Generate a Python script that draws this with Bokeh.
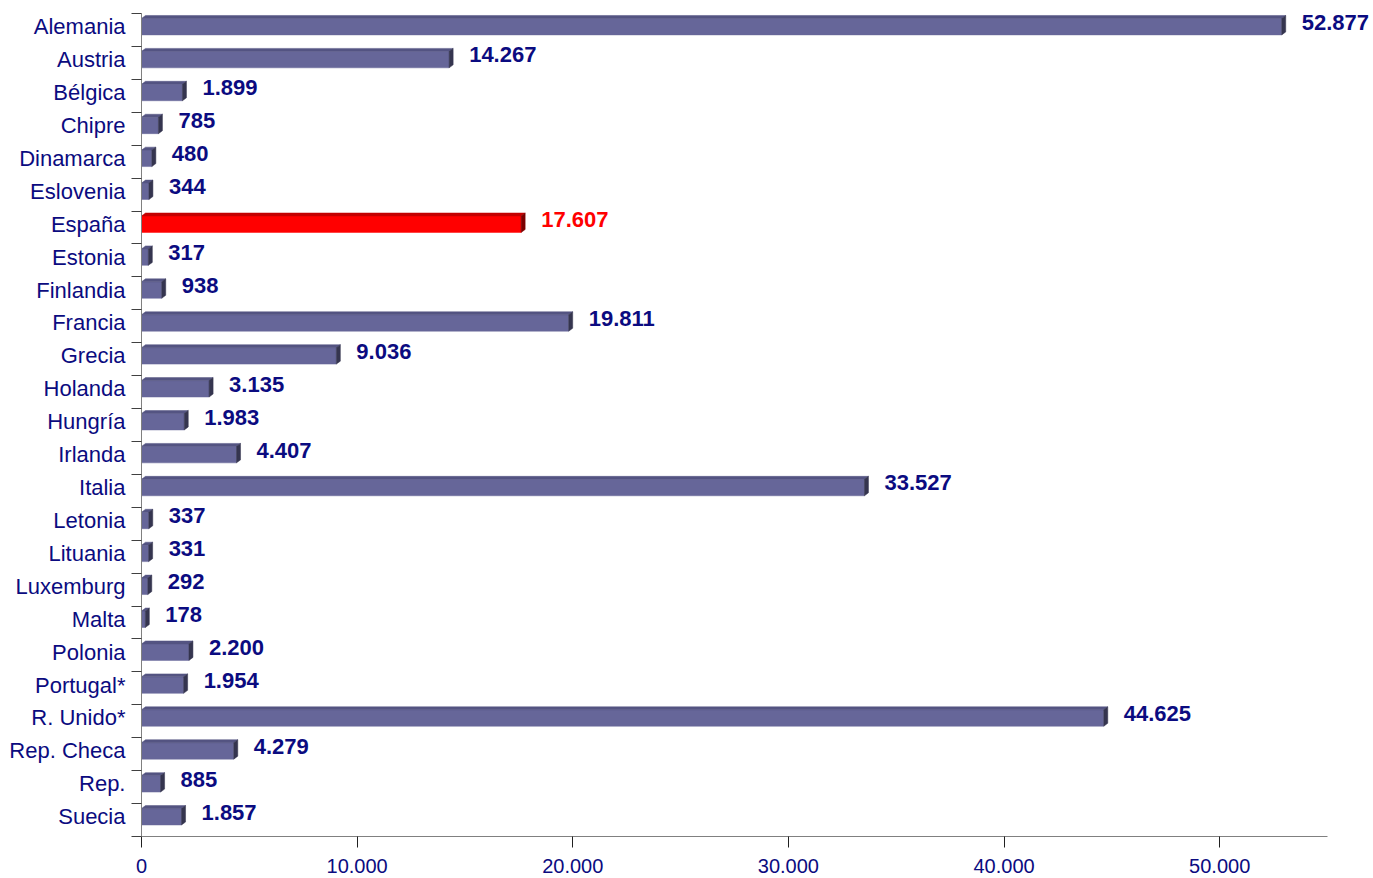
from bokeh.plotting import figure
from bokeh.models import ColumnDataSource, LabelSet, FixedTicker, Range1d
from bokeh.core.properties import value
from bokeh.embed import file_html
from bokeh.resources import INLINE

countries = ["Alemania", "Austria", "Bélgica", "Chipre", "Dinamarca", "Eslovenia",
             "España", "Estonia", "Finlandia", "Francia", "Grecia", "Holanda",
             "Hungría", "Irlanda", "Italia", "Letonia", "Lituania", "Luxemburg",
             "Malta", "Polonia", "Portugal*", "R. Unido*", "Rep. Checa", "Rep.",
             "Suecia"]
values = [52877, 14267, 1899, 785, 480, 344, 17607, 317, 938, 19811, 9036, 3135,
          1983, 4407, 33527, 337, 331, 292, 178, 2200, 1954, 44625, 4279, 885, 1857]
highlight = "España"
x_ticks = [0, 10000, 20000, 30000, 40000, 50000]
x_tick_labels = ["0", "10.000", "20.000", "30.000", "40.000", "50.000"]
axis_max = 55000

NAVY = "#0b0b80"
n = len(countries)
ypos = [n - 1 - i for i in range(n)]

W, H = 1373, 878
left_b, top_b, bottom_b = 141, 13, 42
axis_px = 1327 - left_b                      # pixel length of the drawn x axis
x_end = axis_max * (W - left_b) / axis_px    # frame extends to canvas edge

off = 0.1      # category centre sits slightly above the middle of its band
h = 0.5        # front face height
dx = 4 * axis_max / axis_px   # depth in x (4px)
dy = 0.09      # depth in y (~3px)

front_col, top_col, side_col, text_col = [], [], [], []
for c in countries:
    if c == highlight:
        front_col.append("#ff0000"); top_col.append("#c40000"); side_col.append("#7a0000"); text_col.append("#ff0000")
    else:
        front_col.append("#666699"); top_col.append("#545482"); side_col.append("#35354f"); text_col.append(NAVY)

bottoms = [y - h / 2 for y in ypos]
tops = [y + h / 2 for y in ypos]

front = ColumnDataSource(dict(left=[0] * n, right=values, bottom=bottoms, top=tops, color=front_col))
top_src = ColumnDataSource(dict(
    xs=[[0, v, v + dx, dx] for v in values],
    ys=[[t, t, t + dy, t + dy] for t in tops],
    color=top_col))
side_src = ColumnDataSource(dict(
    xs=[[v, v, v + dx, v + dx] for v in values],
    ys=[[b, t, t + dy, b + dy] for b, t in zip(bottoms, tops)],
    color=side_col))
lab_src = ColumnDataSource(dict(
    x=values, y=[y + 0.14 for y in ypos],
    text=[f"{v:,}".replace(",", ".") for v in values], color=text_col))

p = figure(width=W, height=H, output_backend="svg", toolbar_location=None,
           x_range=Range1d(0, x_end), y_range=Range1d(-0.5 - off, n - 0.5 - off),
           min_border_left=left_b, min_border_right=0, min_border_top=top_b,
           min_border_bottom=bottom_b)
p.outline_line_color = None
p.xgrid.visible = False
p.ygrid.visible = False
p.background_fill_color = "white"

p.quad(left="left", right="right", bottom="bottom", top="top", source=front,
       fill_color="color", line_color="color", line_width=0.5)
p.patches(xs="xs", ys="ys", source=top_src, fill_color="color", line_color="color", line_width=0.5)
p.patches(xs="xs", ys="ys", source=side_src, fill_color="color", line_color="color", line_width=0.5)

labels = LabelSet(x="x", y="y", text="text", source=lab_src, x_offset=20,
                  text_align="left", text_baseline="middle", text_color="color",
                  text_font=value("Liberation Sans"), text_font_size="22px",
                  text_font_style="bold")
p.add_layout(labels)

# y axis
p.yaxis.ticker = FixedTicker(ticks=ypos, minor_ticks=[i - 0.5 - off for i in range(n + 1)])
p.yaxis.major_label_overrides = {y: c for y, c in zip(ypos, countries)}
p.yaxis.major_tick_line_color = None
p.yaxis.major_tick_out = 0
p.yaxis.major_tick_in = 0
p.yaxis.minor_tick_out = 10
p.yaxis.minor_tick_in = 0
p.yaxis.minor_tick_line_color = "#404040"
p.yaxis.axis_line_color = "#808080"
p.yaxis.major_label_standoff = 6
p.yaxis.major_label_text_font = "Liberation Sans"
p.yaxis.major_label_text_font_size = "22px"
p.yaxis.major_label_text_color = NAVY

# x axis
p.xaxis.ticker = FixedTicker(ticks=x_ticks, minor_ticks=[])
p.xaxis.bounds = (0, axis_max)
p.xaxis.major_label_overrides = {t: l for t, l in zip(x_ticks, x_tick_labels)}
p.xaxis.major_tick_out = 11
p.xaxis.major_tick_in = 0
p.xaxis.major_tick_line_color = "#202020"
p.xaxis.axis_line_color = "#808080"
p.xaxis.major_label_standoff = 11
p.xaxis.major_label_text_font = "Liberation Sans"
p.xaxis.major_label_text_font_size = "20px"
p.xaxis.major_label_text_color = NAVY

open("out.html", "w").write(file_html(p, INLINE))
